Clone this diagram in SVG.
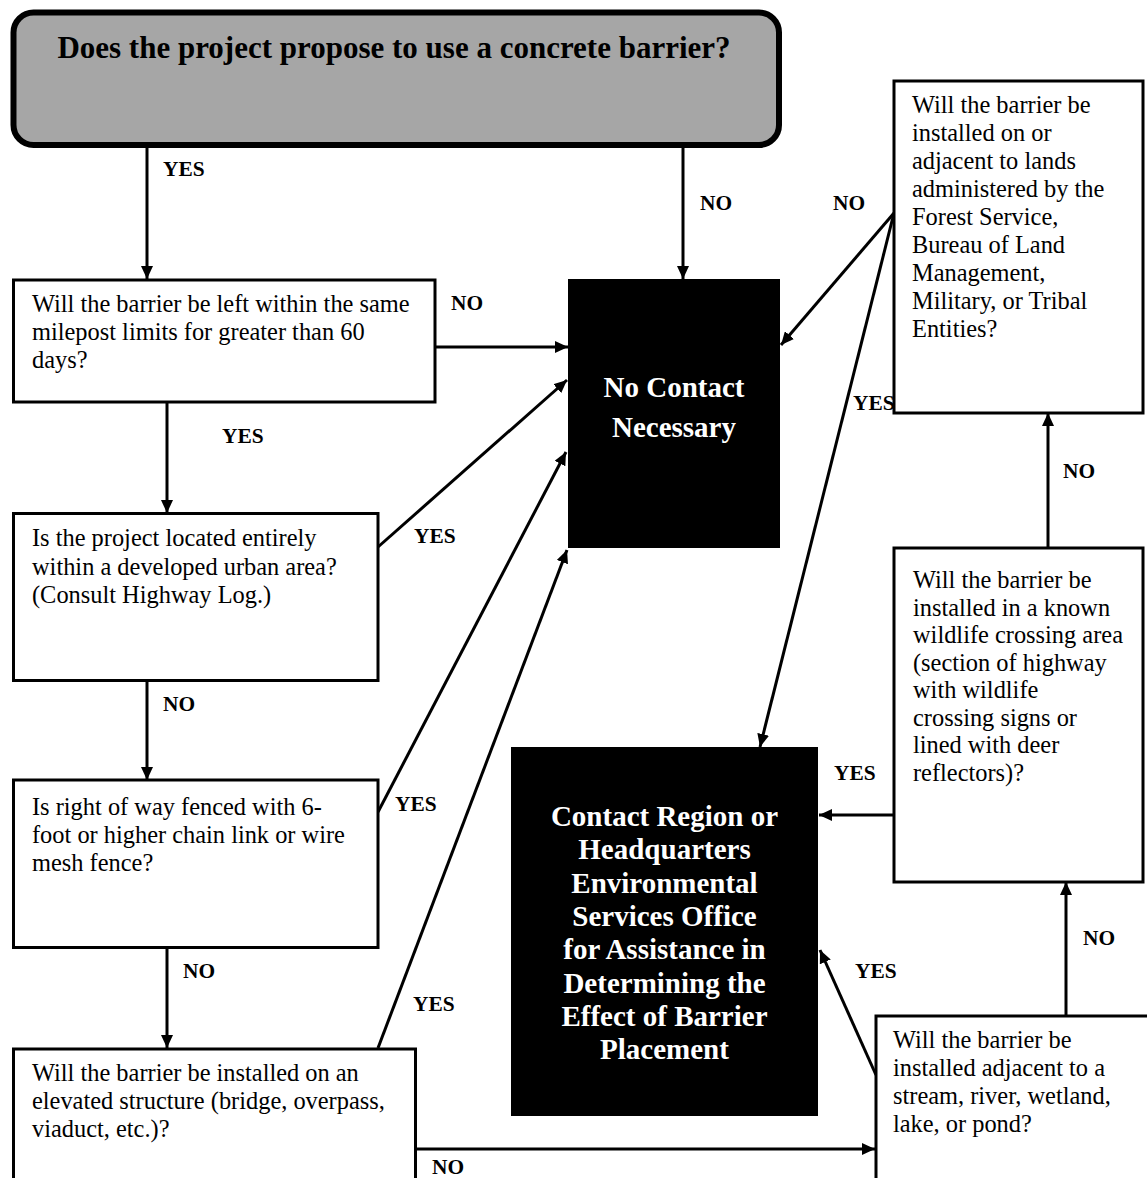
<svg xmlns="http://www.w3.org/2000/svg" width="1147" height="1178" viewBox="0 0 1147 1178">
<defs>
<marker id="ah" markerUnits="userSpaceOnUse" markerWidth="14" markerHeight="12" refX="13" refY="6" orient="auto">
<path d="M0,0 L13,6 L0,12 z" fill="#000"/>
</marker>
<style>
.box{fill:#fff;stroke:#000;stroke-width:3}
.dark{fill:#000;stroke:none}
.q{font-family:"Liberation Serif","Times New Roman",serif;font-size:24.4px;fill:#000}
.lbl{font-family:"Liberation Serif","Times New Roman",serif;font-size:21.4px;font-weight:bold;fill:#000}
.big{font-family:"Liberation Serif","Times New Roman",serif;font-size:29px;font-weight:bold;fill:#fff;text-anchor:middle}
.title{font-family:"Liberation Serif","Times New Roman",serif;font-size:31px;font-weight:bold;fill:#000;text-anchor:middle}
.c{fill:none;stroke:#000;stroke-width:3;marker-end:url(#ah)}
</style>
</defs>
<rect width="1147" height="1178" fill="#fff"/>

<g id="connectors">
<line class="c" x1="147" y1="148" x2="147" y2="279"/>
<line class="c" x1="683" y1="148" x2="683" y2="279"/>
<line class="c" x1="436" y1="347" x2="568" y2="347"/>
<line class="c" x1="167" y1="403" x2="167" y2="513"/>
<line class="c" x1="378" y1="547" x2="567" y2="380"/>
<line class="c" x1="147" y1="681" x2="147" y2="780"/>
<line class="c" x1="378" y1="812" x2="566" y2="452"/>
<line class="c" x1="167" y1="948" x2="167" y2="1048"/>
<line class="c" x1="378" y1="1048" x2="567" y2="550"/>
<line class="c" x1="416" y1="1149" x2="875" y2="1149"/>
<line class="c" x1="1066" y1="1015" x2="1066" y2="882"/>
<line class="c" x1="876" y1="1075" x2="820" y2="950"/>
<line class="c" x1="893" y1="815" x2="819" y2="815"/>
<line class="c" x1="1048" y1="547" x2="1048" y2="413"/>
<line class="c" x1="894" y1="213" x2="781" y2="345"/>
<line class="c" x1="894" y1="213" x2="760" y2="747"/>
<text class="lbl" x="163" y="176">YES</text>
<text class="lbl" x="700" y="210">NO</text>
<text class="lbl" x="451" y="310">NO</text>
<text class="lbl" x="222" y="443">YES</text>
<text class="lbl" x="414" y="543">YES</text>
<text class="lbl" x="163" y="711">NO</text>
<text class="lbl" x="395" y="811">YES</text>
<text class="lbl" x="183" y="978">NO</text>
<text class="lbl" x="413" y="1011">YES</text>
<text class="lbl" x="432" y="1174">NO</text>
<text class="lbl" x="1083" y="945">NO</text>
<text class="lbl" x="855" y="978">YES</text>
<text class="lbl" x="834" y="780">YES</text>
<text class="lbl" x="1063" y="478">NO</text>
<text class="lbl" x="833" y="210">NO</text>
<text class="lbl" x="853" y="410">YES</text>
</g>

<g id="start">
<rect x="13.5" y="12.5" width="765.5" height="132.5" rx="20" ry="20" fill="#a6a6a6" stroke="#000" stroke-width="6"/>
<text class="title" x="394" y="58">Does the project propose to use a concrete barrier?</text>
</g>

<g id="q-milepost">
<rect class="box" x="13.5" y="280" width="421.5" height="122"/>
<text class="q" x="32" y="312">Will the barrier be left within the same</text>
<text class="q" x="32" y="340">milepost limits for greater than 60</text>
<text class="q" x="32" y="368">days?</text>
</g>

<g id="q-urban">
<rect class="box" x="13.5" y="513.5" width="364.5" height="167"/>
<text class="q" x="32" y="546">Is the project located entirely</text>
<text class="q" x="32" y="575">within a developed urban area?</text>
<text class="q" x="32" y="603">(Consult Highway Log.)</text>
</g>

<g id="q-fence">
<rect class="box" x="13.5" y="780" width="364.5" height="167.5"/>
<text class="q" x="32" y="815">Is right of way fenced with 6-</text>
<text class="q" x="32" y="843">foot or higher chain link or wire</text>
<text class="q" x="32" y="871">mesh fence?</text>
</g>

<g id="q-elevated">
<rect class="box" x="13.5" y="1049" width="402" height="200"/>
<text class="q" x="32" y="1081">Will the barrier be installed on an</text>
<text class="q" x="32" y="1109">elevated structure (bridge, overpass,</text>
<text class="q" x="32" y="1137">viaduct, etc.)?</text>
</g>

<g id="no-contact">
<rect class="dark" x="568" y="279" width="212" height="269"/>
<text class="big" x="674" y="397">No Contact</text>
<text class="big" x="674" y="437">Necessary</text>
</g>

<g id="contact">
<rect class="dark" x="511" y="747" width="307" height="369"/>
<text class="big" x="664.5" y="826">Contact Region or</text>
<text class="big" x="664.5" y="859.3">Headquarters</text>
<text class="big" x="664.5" y="892.6">Environmental</text>
<text class="big" x="664.5" y="926">Services Office</text>
<text class="big" x="664.5" y="959.3">for Assistance in</text>
<text class="big" x="664.5" y="992.6">Determining the</text>
<text class="big" x="664.5" y="1026">Effect of Barrier</text>
<text class="big" x="664.5" y="1059.3">Placement</text>
</g>

<g id="q-water">
<rect class="box" x="876" y="1016" width="300" height="200"/>
<text class="q" x="893" y="1048">Will the barrier be</text>
<text class="q" x="893" y="1076">installed adjacent to a</text>
<text class="q" x="893" y="1104">stream, river, wetland,</text>
<text class="q" x="893" y="1132">lake, or pond?</text>
</g>

<g id="q-wildlife">
<rect class="box" x="894" y="548" width="249" height="334"/>
<text class="q" x="913" y="588">Will the barrier be</text>
<text class="q" x="913" y="615.5">installed in a known</text>
<text class="q" x="913" y="643">wildlife crossing area</text>
<text class="q" x="913" y="670.5">(section of highway</text>
<text class="q" x="913" y="698">with wildlife</text>
<text class="q" x="913" y="725.5">crossing signs or</text>
<text class="q" x="913" y="753">lined with deer</text>
<text class="q" x="913" y="780.5">reflectors)?</text>
</g>

<g id="q-lands">
<rect class="box" x="894" y="81" width="249" height="332"/>
<text class="q" x="912" y="113">Will the barrier be</text>
<text class="q" x="912" y="141">installed on or</text>
<text class="q" x="912" y="169">adjacent to lands</text>
<text class="q" x="912" y="197">administered by the</text>
<text class="q" x="912" y="225">Forest Service,</text>
<text class="q" x="912" y="253">Bureau of Land</text>
<text class="q" x="912" y="281">Management,</text>
<text class="q" x="912" y="309">Military, or Tribal</text>
<text class="q" x="912" y="337">Entities?</text>
</g>
</svg>
